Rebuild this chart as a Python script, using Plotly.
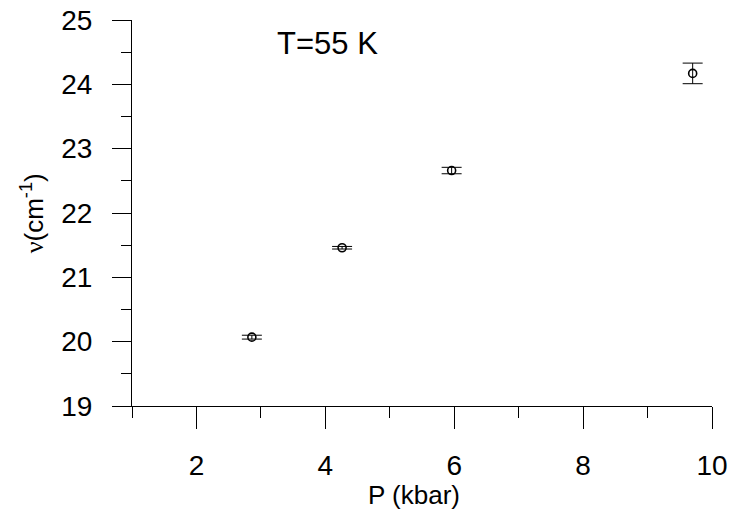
import plotly.graph_objects as go

# Pressure dependence of the mode frequency at T = 55 K
pressure_kbar = [2.86, 4.26, 5.96, 9.70]
frequency_cm1 = [20.07, 21.46, 22.66, 24.17]
frequency_err = [0.03, 0.02, 0.05, 0.16]

x_ticks = [2, 4, 6, 8, 10]
y_ticks = [19, 20, 21, 22, 23, 24, 25]

FONT = "Liberation Sans, Arial, sans-serif"

fig = go.Figure()
fig.add_trace(go.Scatter(
    x=pressure_kbar,
    y=frequency_cm1,
    mode="markers",
    marker=dict(symbol="circle-open", size=8, color="black",
                line=dict(width=1.6, color="black")),
    error_y=dict(type="data", array=frequency_err, visible=True,
                 color="black", thickness=1, width=10),
    showlegend=False,
))

fig.update_layout(
    width=730, height=511,
    margin=dict(l=132, r=18, t=20, b=105),
    paper_bgcolor="white", plot_bgcolor="white",
    font=dict(family=FONT, color="black"),
    xaxis=dict(
        range=[1, 10], tickvals=x_ticks, ticktext=[str(v) for v in x_ticks],
        automargin=False,
        showline=True, linecolor="black", linewidth=1, mirror=False,
        ticks="outside", ticklen=22, tickwidth=1, tickcolor="black",
        ticklabelstandoff=12,
        tickfont=dict(size=28, family=FONT),
        minor=dict(dtick=1, tick0=0, ticks="outside", ticklen=11,
                   tickwidth=1, tickcolor="black", showgrid=False),
        showgrid=False, zeroline=False,
    ),
    yaxis=dict(
        range=[19, 25], tickvals=y_ticks, ticktext=[str(v) for v in y_ticks],
        automargin=False,
        showline=True, linecolor="black", linewidth=1, mirror=False,
        ticks="outside", ticklen=19, tickwidth=1, tickcolor="black",
        ticklabelstandoff=14,
        tickfont=dict(size=28, family=FONT),
        minor=dict(dtick=0.5, tick0=0, ticks="outside", ticklen=10,
                   tickwidth=1, tickcolor="black", showgrid=False),
        showgrid=False, zeroline=False,
    ),
    annotations=[
        dict(text="T=55 K", xref="paper", yref="paper", x=0.337, y=0.940,
             xanchor="center", yanchor="middle", showarrow=False,
             font=dict(size=31, family=FONT)),
        dict(text="P (kbar)", xref="paper", yref="paper", x=0.486, y=-0.231,
             xanchor="center", yanchor="middle", showarrow=False,
             font=dict(size=26, family=FONT)),
        dict(text=("<span style=\"font-family:'Liberation Serif',serif\">ν</span>"
                   "(cm<sup>-1</sup>)"),
             xref="paper", yref="paper",
             x=-0.172, y=0.5, xanchor="center", yanchor="middle",
             textangle=-90, showarrow=False,
             font=dict(size=26, family=FONT)),
    ],
)

fig.write_html("out.html")
